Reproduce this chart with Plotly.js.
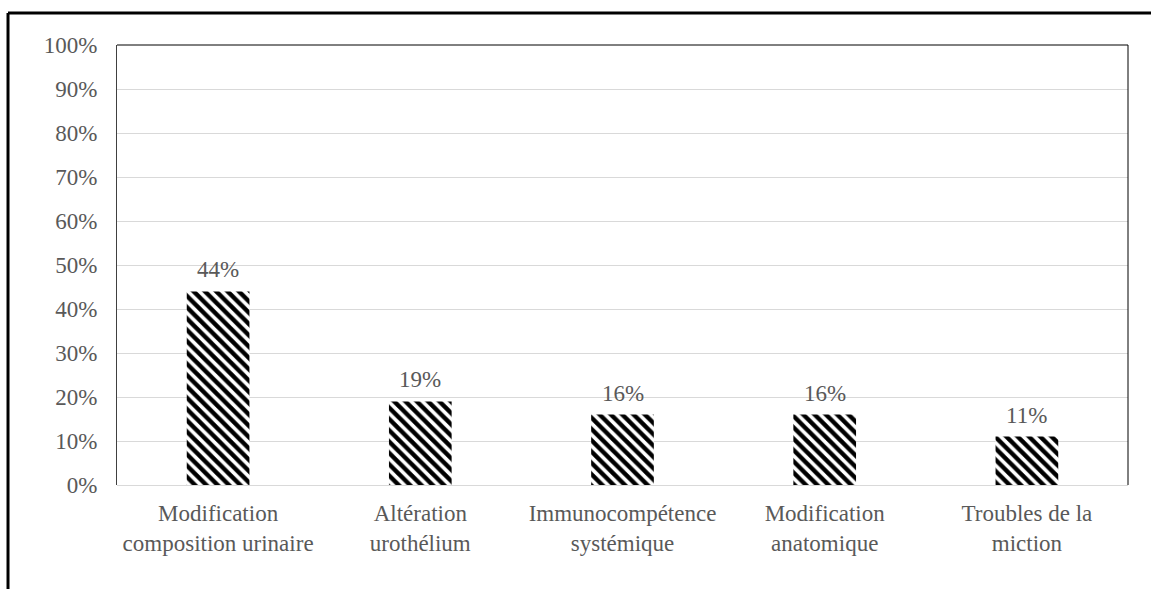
<!DOCTYPE html>
<html><head><meta charset="utf-8">
<script src="https://cdn.plot.ly/plotly-3.0.1.min.js"></script>
<style>html,body{margin:0;padding:0;background:#fff;}#chart{width:1151px;height:589px;}</style>
</head><body><div id="chart"></div>
<script>
const categories = ["Modification<br>composition urinaire", "Altération<br>urothélium", "Immunocompétence<br>systémique", "Modification<br>anatomique", "Troubles de la<br>miction"];
const values = [44, 19, 16, 16, 11];
const labels = ["44%", "19%", "16%", "16%", "11%"];
const yTicks = [0,10,20,30,40,50,60,70,80,90,100];
const yTickText = yTicks.map(v => v + "%");

const font = "Liberation Serif, Times New Roman, serif";
const grey = "#595959";
const fs = 23;

const trace = {
  type: "bar",
  x: categories,
  y: values,
  width: 0.31,
  marker: {
    color: "white",
    line: {width: 0},
    pattern: {shape: "\\", fgcolor: "black", bgcolor: "white", size: 8, solidity: 0.55, fillmode: "replace"}
  },
  hoverinfo: "none"
};

const annotations = categories.map((c, i) => ({
  x: c, y: values[i], xref: "x", yref: "y",
  text: labels[i], showarrow: false,
  yanchor: "bottom", yshift: 7,
  font: {family: font, size: fs, color: grey}
}));

const layout = {
  width: 1151, height: 589,
  margin: {l: 117, r: 23, t: 45, b: 104, pad: 0},
  paper_bgcolor: "white", plot_bgcolor: "white",
  showlegend: false,
  font: {family: font, size: fs, color: grey},
  xaxis: {
    showgrid: false, showline: false, zeroline: false, ticks: "",
    ticklabelstandoff: 12,
    tickfont: {family: font, size: fs, color: grey}
  },
  yaxis: {
    range: [0, 100], tickvals: yTicks, ticktext: yTickText,
    showgrid: true, gridcolor: "#d9d9d9", gridwidth: 1,
    zeroline: true, zerolinecolor: "#d9d9d9", zerolinewidth: 1,
    showline: true, linecolor: "#404040", linewidth: 1,
    ticks: "", ticklabelstandoff: 14,
    tickfont: {family: font, size: fs, color: grey}
  },
  annotations: annotations,
  shapes: [
    {type: "line", xref: "paper", yref: "paper", x0: 0, x1: 1, y0: 1, y1: 1, line: {color: "black", width: 1}},
    {type: "line", xref: "paper", yref: "paper", x0: 1, x1: 1, y0: 0, y1: 1, line: {color: "black", width: 1}},
    {type: "line", xref: "paper", yref: "paper", x0: -0.1078, x1: 1.03, y0: 1.0727, y1: 1.0727, line: {color: "black", width: 3}},
    {type: "line", xref: "paper", yref: "paper", x0: -0.1078, x1: -0.1078, y0: 1.0727, y1: -0.25, line: {color: "black", width: 3}}
  ]
};

Plotly.newPlot("chart", [trace], layout, {displayModeBar: false, staticPlot: true});
</script></body></html>
